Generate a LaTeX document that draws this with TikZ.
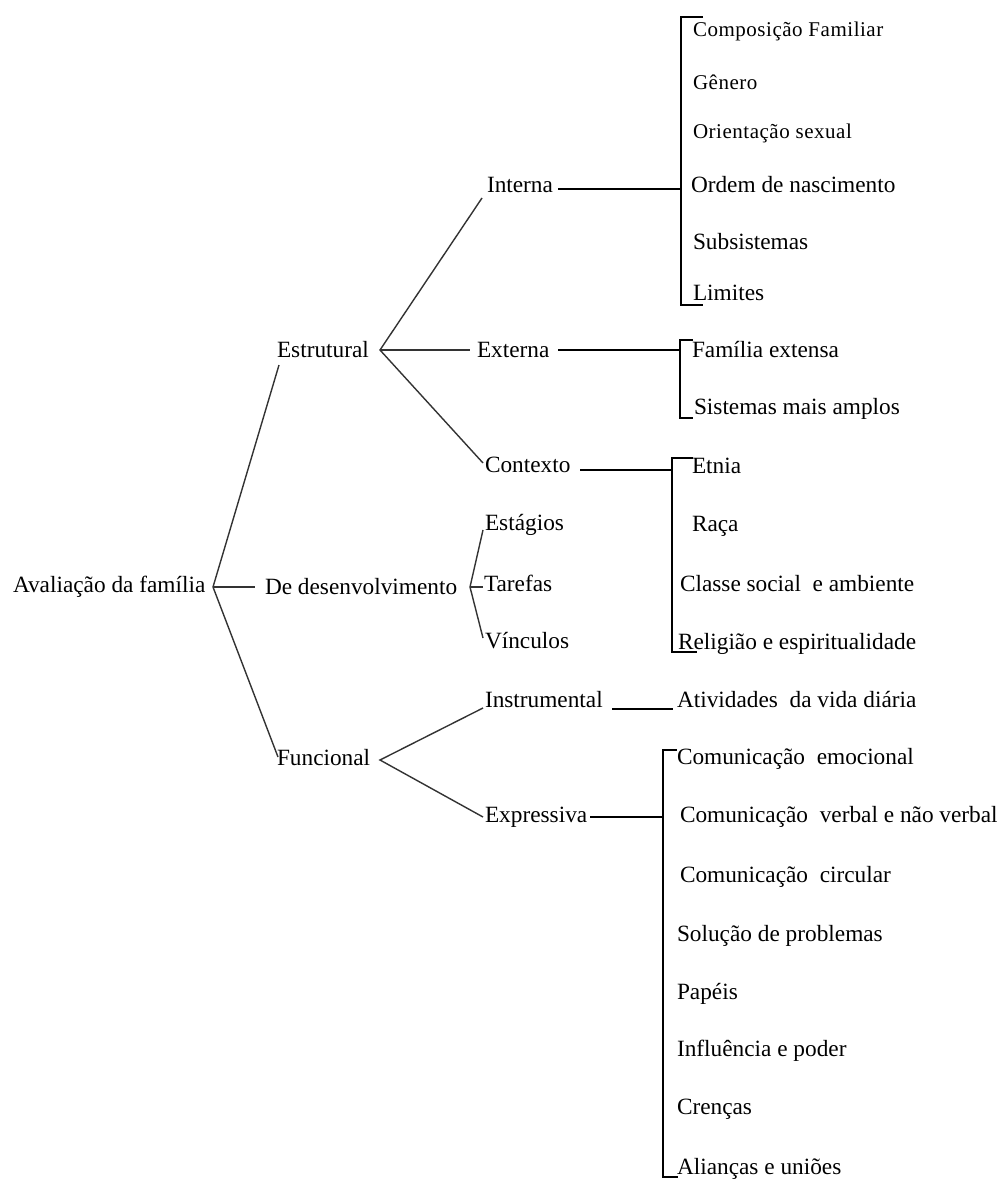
\documentclass[tikz,border=0pt]{standalone}
\usepackage{fontspec}
\setmainfont{Liberation Serif}
\newfontfamily\spacedfont[LetterSpace=2.5]{Liberation Serif}
\begin{document}
\begin{tikzpicture}[x=1pt,y=-1pt,
  lbl/.style={anchor=base west, inner sep=0pt, outer sep=0pt, font=\fontsize{23.3}{27}\selectfont},
  slbl/.style={anchor=base west, inner sep=0pt, outer sep=0pt, font=\spacedfont\fontsize{21}{24}\selectfont},
  conn/.style={line width=1.4pt, draw=black!80},
  brk/.style={line width=1.6pt, draw=black}]
\useasboundingbox (0,0) rectangle (1001,1180);

% ---- level 0 / 1
\node[lbl] (root) at (13,592) {Avaliação da família};
\node[lbl] (est) at (277,357) {Estrutural};
\node[lbl] (dev) at (265,594) {De desenvolvimento};
\node[lbl] (fun) at (277,765) {Funcional};

% ---- level 2
\node[lbl] (int) at (487,192) {Interna};
\node[lbl] (ext) at (477,357) {Externa};
\node[lbl] (ctx) at (485,472) {Contexto};
\node[lbl] (stg) at (485,530) {Estágios};
\node[lbl] (tar) at (484,591) {Tarefas};
\node[lbl] (vin) at (485,648) {Vínculos};
\node[lbl] (ins) at (485,707) {Instrumental};
\node[lbl] (exp) at (485,822) {Expressiva};

% ---- level 3: Interna
\node[slbl] (i1) at (693,37) {Composição Familiar};
\node[slbl] (i2) at (693,90) {Gênero};
\node[slbl] (i3) at (693,139) {Orientação sexual};
\node[lbl] (i4) at (691,192) {Ordem de nascimento};
\node[lbl] (i5) at (693,249) {Subsistemas};
\node[lbl] (i6) at (693,300) {Limites};
% Externa
\node[lbl] (e1) at (692,357) {Família extensa};
\node[lbl] (e2) at (694,414) {Sistemas mais amplos};
% Contexto
\node[lbl] (c1) at (692,473) {Etnia};
\node[lbl] (c2) at (692,531) {Raça};
\node[lbl] (c3) at (680,591) {Classe social\ \ e ambiente};
\node[lbl] (c4) at (678,649) {Religião e espiritualidade};
% Instrumental
\node[lbl] (a1) at (677,707) {Atividades\ \ da vida diária};
% Expressiva
\node[lbl] (x1) at (677,764) {Comunicação\ \ emocional};
\node[lbl] (x2) at (680,822) {Comunicação\ \ verbal e não verbal};
\node[lbl] (x3) at (680,882) {Comunicação\ \ circular};
\node[lbl] (x4) at (677,941) {Solução de problemas};
\node[lbl] (x5) at (677,999) {Papéis};
\node[lbl] (x6) at (677,1056) {Influência e poder};
\node[lbl] (x7) at (677,1114) {Crenças};
\node[lbl] (x8) at (677,1174) {Alianças e uniões};

% ---- connector points
\coordinate (jRoot) at (213,587);
\coordinate (tEst) at (279,365);
\coordinate (tDev) at (255,587);
\coordinate (tFun) at (278,757);

\coordinate (jEst) at (380,350);
\coordinate (tInt) at (482,198);
\coordinate (tExt) at (470,350);
\coordinate (tCtx) at (483,463);

\coordinate (jDev) at (470,587);
\coordinate (tStg) at (483,530);
\coordinate (tTar) at (483,587);
\coordinate (tVin) at (483,638);

\coordinate (jFun) at (380,760);
\coordinate (tIns) at (483,708);
\coordinate (tExp) at (483,817);

\coordinate (oInt) at (558,189);
\coordinate (bInt) at (681,189);
\coordinate (bIntT) at (703,17);
\coordinate (bIntB) at (703,305);

\coordinate (oExt) at (558,350);
\coordinate (bExt) at (680,350);
\coordinate (bExtT) at (693,340);
\coordinate (bExtB) at (693,418);

\coordinate (oCtx) at (580,470);
\coordinate (bCtx) at (672,470);
\coordinate (bCtxT) at (693,458);
\coordinate (bCtxB) at (697,652);

\coordinate (oIns) at (612,709);
\coordinate (tAtv) at (673,709);

\coordinate (oExp) at (590,817);
\coordinate (bExp) at (663,817);
\coordinate (bExpT) at (677,750);
\coordinate (bExpB) at (678,1177);

% ---- connectors
\draw[conn] (tEst) -- (jRoot) -- (tFun);
\draw[conn] (jRoot) -- (tDev);

\draw[conn] (tInt) -- (jEst) -- (tCtx);
\draw[conn] (jEst) -- (tExt);

\draw[conn] (tStg) -- (jDev) -- (tVin);
\draw[conn] (jDev) -- (tTar);

\draw[conn] (tIns) -- (jFun) -- (tExp);

\draw[brk] (oInt) -- (bInt);
\draw[brk] (bIntT) -| (bInt) |- (bIntB);

\draw[brk] (oExt) -- (bExt);
\draw[brk] (bExtT) -| (bExt) |- (bExtB);

\draw[brk] (oCtx) -- (bCtx);
\draw[brk] (bCtxT) -| (bCtx) |- (bCtxB);

\draw[brk] (oIns) -- (tAtv);

\draw[brk] (oExp) -- (bExp);
\draw[brk] (bExpT) -| (bExp) |- (bExpB);
\end{tikzpicture}
\end{document}
